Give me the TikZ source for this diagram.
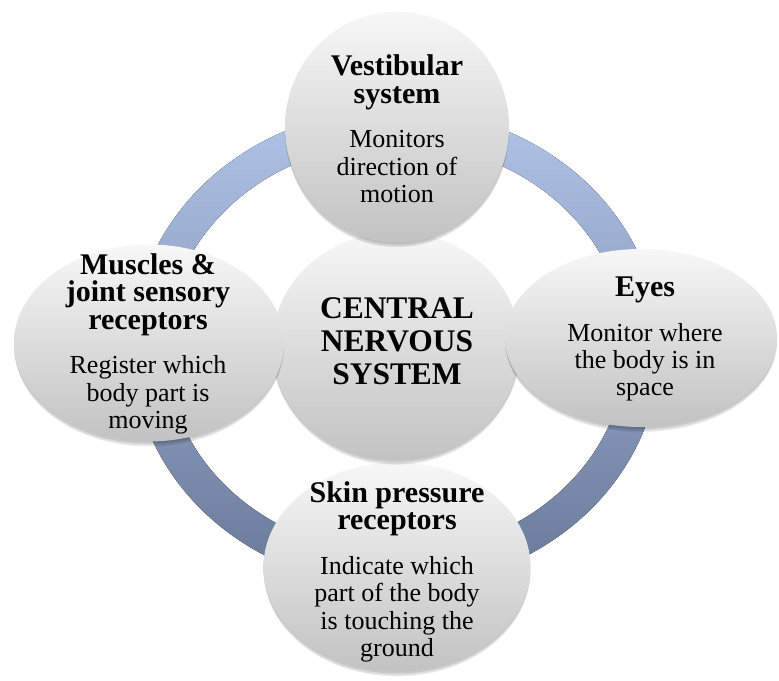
\documentclass[tikz,border=0pt]{standalone}
\usepackage{fontspec}
\setmainfont{Liberation Serif}
\usetikzlibrary{shapes.geometric,shadows}
\definecolor{ringtop}{RGB}{176,196,232}
\definecolor{ringbot}{RGB}{104,120,152}
\definecolor{bubtop}{RGB}{247,247,247}
\definecolor{bubbot}{RGB}{194,194,194}
\newcommand{\ttlfont}{\bfseries\fontsize{22.5}{20.5}\selectfont}
\newcommand{\bodyfont}{\mdseries\fontsize{19.5}{20.5}\selectfont}
\newcommand{\tl}[1]{{\ttlfont #1}}
\tikzset{
  ringband/.style={top color=ringtop, bottom color=ringbot, even odd rule},
  softshadow/.style={
    general shadow={shadow yshift=-1.5pt, fill=black, opacity=0.10},
    general shadow={shadow yshift=-3pt, fill=black, opacity=0.08},
    general shadow={shadow yshift=-4.5pt, shadow scale=0.99, fill=black, opacity=0.06}},
  bubble/.style={ellipse, inner sep=0pt, outer sep=0pt, top color=bubtop, bottom color=bubbot, softshadow},
  txt/.style={align=center, inner sep=0pt, text=black, font=\bodyfont},
  cnstxt/.style={align=center, inner sep=0pt, text=black, font=\bfseries\fontsize{23.6}{24.75}\selectfont},
}
\begin{document}
\begin{tikzpicture}[x=0.75pt,y=-0.75pt]
\path[use as bounding box] (0,0) rectangle (779,681);
% ring
\fill[ringband] (396,348) ellipse [x radius=264, y radius=239]
                (396,348) ellipse [x radius=230, y radius=205];
% bubbles
\node[bubble, minimum width=200.25pt, minimum height=156.75pt] (skin) at (397,567) {};
\node[bubble, minimum width=186pt, minimum height=171pt] (cns) at (396,346) {};
\node[bubble, minimum width=168pt, minimum height=173.25pt] (ves) at (397,127) {};
\node[bubble, minimum width=202.5pt, minimum height=147.75pt] (mus) at (149,343) {};
\node[bubble, minimum width=204pt, minimum height=133.5pt] (eyes) at (641,338) {};
% texts
\node[cnstxt] (cnsT) at (397,341) {CENTRAL\\NERVOUS\\SYSTEM};
\node[txt] (vesT) at (397,129) {\tl{Vestibular}\\\tl{system}\\[13pt]Monitors\\direction of\\motion};
\node[txt] (musT) at (148,344) {\tl{Muscles \&}\\\tl{joint sensory}\\\tl{receptors}\\[13pt]Register which\\body part is\\moving};
\node[txt] (eyesT) at (645,339) {\tl{Eyes}\\[13pt]Monitor where\\the body is in\\space};
\node[txt] (skinT) at (397,572) {\tl{Skin pressure}\\\tl{receptors}\\[13pt]Indicate which\\part of the body\\is touching the\\ground};
\end{tikzpicture}
\end{document}
